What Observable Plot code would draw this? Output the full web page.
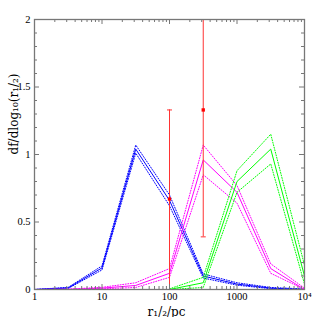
<!DOCTYPE html>
<html>
<head>
<meta charset="utf-8">
<script src="https://cdn.jsdelivr.net/npm/d3@7"></script>
<script src="https://cdn.jsdelivr.net/npm/@observablehq/plot@0.6"></script>
<style>
  html, body { margin: 0; padding: 0; background: #fff; }
</style>
</head>
<body>
<div id="chart"></div>
<script>
// x positions (half-decade bins of r_1/2 in pc)
const xs = [1, 3.162, 10, 31.62, 100, 316.2, 1000, 3162, 10000];

const blue   = [0, 0.012, 0.16, 1.04, 0.66, 0.10, 0.04, 0.01, 0];
const blueHi = [0, 0.016, 0.175, 1.07, 0.70, 0.115, 0.05, 0.015, 0.004];
const blueLo = [0, 0.008, 0.145, 1.01, 0.62, 0.085, 0.032, 0.006, 0];

const mag    = [0, 0.001, 0.01, 0.03, 0.12, 0.96, 0.72, 0.155, 0];
const magHi  = [0, 0.003, 0.016, 0.05, 0.155, 1.07, 0.77, 0.19, 0.01];
const magLo  = [0, 0, 0.005, 0.015, 0.09, 0.85, 0.64, 0.12, 0];

const grnX   = [100, 316.2, 1000, 3162, 10000];
const grn    = [0, 0.05, 0.80, 1.04, 0.10];
const grnHi  = [0.005, 0.09, 0.88, 1.15, 0.18];
const grnLo  = [0, 0.015, 0.72, 0.93, 0.04];

// observed points with error bars
const errX  = [100, 316.2];
const errY  = [0.67, 1.33];
const errLo = [0, 0.39];
const errHi = [1.33, 2.0];

// tick values
const xMajor = [1, 10, 100, 1000, 10000];
const xMinor = [2,3,4,5,6,7,8,9,20,30,40,50,60,70,80,90,200,300,400,500,600,700,800,900,2000,3000,4000,5000,6000,7000,8000,9000];
const xLabels = ["1", "10", "100", "1000", "10\u2074"];
const yMajor = [0, 0.5, 1, 1.5, 2];
const yMinor = [0.1,0.2,0.3,0.4,0.6,0.7,0.8,0.9,1.1,1.2,1.3,1.4,1.6,1.7,1.8,1.9];
const yLabels = ["0", "0.5", "1", "1.5", "2"];

const W = 314, H = 317, mL = 34, mR = 10, mT = 19, mB = 28;
const pH = H - mT - mB, pW = W - mL - mR;
const axisCol = "#777";

const toRows = (xv, yv) => xv.map((x, i) => ({x, y: yv[i]}));
const dotted = "1,1.6";

const capSymbol = { draw(ctx) { ctx.moveTo(-2.5, 0); ctx.lineTo(2.5, 0); } };
const errRows = errX.map((x, i) => ({x, y: errY[i], lo: errLo[i], hi: errHi[i]}));

const plot = Plot.plot({
  width: W, height: H,
  marginLeft: mL, marginRight: mR, marginTop: mT, marginBottom: mB,
  style: { fontFamily: "Liberation Serif", fontSize: "10.5px", background: "#fff", color: "#000" },
  x: { type: "log", domain: [1, 10000] },
  y: { domain: [0, 2] },
  marks: [
    // lines
    Plot.line(toRows(xs, blueHi), {x: "x", y: "y", stroke: "#0000ff", strokeWidth: 1, strokeDasharray: dotted}),
    Plot.line(toRows(xs, blueLo), {x: "x", y: "y", stroke: "#0000ff", strokeWidth: 1, strokeDasharray: dotted}),
    Plot.line(toRows(xs, blue),   {x: "x", y: "y", stroke: "#0000ff", strokeWidth: 1}),
    Plot.line(toRows(xs, magHi),  {x: "x", y: "y", stroke: "#ff00ff", strokeWidth: 1, strokeDasharray: dotted}),
    Plot.line(toRows(xs, magLo),  {x: "x", y: "y", stroke: "#ff00ff", strokeWidth: 1, strokeDasharray: dotted}),
    Plot.line(toRows(xs, mag),    {x: "x", y: "y", stroke: "#ff00ff", strokeWidth: 1}),
    Plot.line(toRows(grnX, grnHi),{x: "x", y: "y", stroke: "#00ff00", strokeWidth: 1, strokeDasharray: dotted}),
    Plot.line(toRows(grnX, grnLo),{x: "x", y: "y", stroke: "#00ff00", strokeWidth: 1, strokeDasharray: dotted}),
    Plot.line(toRows(grnX, grn),  {x: "x", y: "y", stroke: "#00ff00", strokeWidth: 1}),
    // error bars
    Plot.ruleX(errRows, {x: "x", y1: "lo", y2: "hi", stroke: "#ff3333", strokeWidth: 1}),
    Plot.dot(errRows, {x: "x", y: "lo", symbol: capSymbol, stroke: "#ff3333", strokeWidth: 1}),
    Plot.dot(errRows, {x: "x", y: "hi", symbol: capSymbol, stroke: "#ff3333", strokeWidth: 1}),
    Plot.dot(errRows, {x: "x", y: "y", symbol: "square", r: 1.9, fill: "#ff0000", stroke: "none"}),
    // inward ticks
    Plot.tickX(xMajor, {x: d => d, insetTop: pH - 5, stroke: axisCol}),
    Plot.tickX(xMajor, {x: d => d, insetBottom: pH - 5, stroke: axisCol}),
    Plot.tickX(xMinor, {x: d => d, insetTop: pH - 3, stroke: axisCol}),
    Plot.tickX(xMinor, {x: d => d, insetBottom: pH - 3, stroke: axisCol}),
    Plot.tickY(yMajor, {y: d => d, insetRight: pW - 5, stroke: axisCol}),
    Plot.tickY(yMajor, {y: d => d, insetLeft: pW - 5, stroke: axisCol}),
    Plot.tickY(yMinor, {y: d => d, insetRight: pW - 3, stroke: axisCol}),
    Plot.tickY(yMinor, {y: d => d, insetLeft: pW - 3, stroke: axisCol}),
    Plot.frame({stroke: axisCol, strokeWidth: 1.3}),
    // axis labels
    Plot.axisX({ticks: xMajor, tickSize: 0, tickPadding: 3, tickFormat: d => xLabels[xMajor.indexOf(d)],
      label: null}),
    Plot.axisY({ticks: yMajor, tickSize: 0, tickPadding: 4, tickFormat: d => yLabels[yMajor.indexOf(d)],
      label: null}),
    Plot.text(["r\u2081/\u2082/pc"], {frameAnchor: "bottom", dy: 26, dx: -3, text: d => d,
      fontFamily: "DejaVu Serif", fontSize: 12}),
    Plot.text(["df/dlog\u2081\u2080(r\u2081/\u2082)"], {frameAnchor: "left", dx: -20, rotate: -90, text: d => d,
      fontFamily: "DejaVu Serif", fontSize: 12})
  ]
});
document.getElementById("chart").appendChild(plot);
</script>
</body>
</html>
